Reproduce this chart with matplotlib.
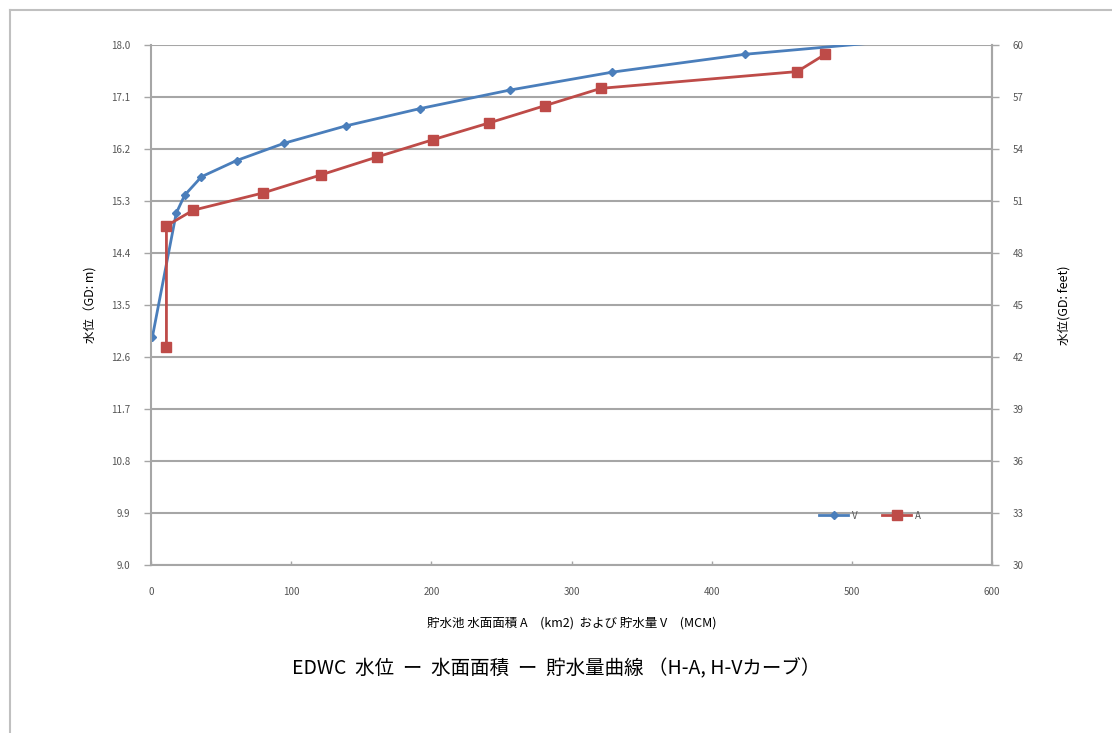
import matplotlib
matplotlib.use('Agg')
import matplotlib.pyplot as plt
from matplotlib.lines import Line2D

plt.rcParams['font.family'] = ['Noto Sans CJK JP', 'DejaVu Sans']

# H-V 曲線 (貯水量 MCM, 水位 m)
vol = [1, 18, 24, 36, 61, 95, 139, 192, 256, 329, 424, 540]
h_vol = [12.95, 15.09, 15.40, 15.72, 16.00, 16.30, 16.60, 16.90, 17.22, 17.53, 17.84, 18.09]

# H-A 曲線 (水面面積 km2, 水位 m)
area = [11, 11, 30, 80, 121, 161, 201, 241, 281, 321, 461, 481]
h_area = [12.77, 14.87, 15.14, 15.44, 15.75, 16.06, 16.36, 16.65, 16.95, 17.25, 17.54, 17.84]

m_ticks = [9.0, 9.9, 10.8, 11.7, 12.6, 13.5, 14.4, 15.3, 16.2, 17.1, 18.0]
ft_ticks = [30, 33, 36, 39, 42, 45, 48, 51, 54, 57, 60]
x_ticks = [0, 100, 200, 300, 400, 500, 600]

blue = '#4a7ebb'
red = '#be4b48'
grid = '#a6a6a6'
tick_col = '#555555'

fig = plt.figure(figsize=(11.12, 7.33), dpi=100)
ax = fig.add_axes([0.1358, 0.2292, 0.7563, 0.7094])

ax.plot(vol, h_vol, color=blue, lw=2, marker='D', ms=4, label='V')
ax.plot(area, h_area, color=red, lw=2, marker='s', ms=6.5, label='A')

ax.set_xlim(0, 600)
ax.set_ylim(9.0, 18.0)
ax.set_xticks(x_ticks)
ax.set_yticks(m_ticks)
ax.set_yticklabels([f'{v:.1f}' for v in m_ticks])
ax.yaxis.grid(True, color=grid, lw=1.5)
ax.set_axisbelow(True)
ax.spines['top'].set_visible(False)
for s in ['left', 'right', 'bottom']:
    ax.spines[s].set_color(grid)
    ax.spines[s].set_linewidth(1.5)
ax.tick_params(axis='y', colors=grid, labelcolor=tick_col, labelsize=7, length=5, width=1, pad=10)
ax.tick_params(axis='x', colors=grid, labelcolor=tick_col, labelsize=7, length=3, width=1, direction='in', pad=16)

ax2 = ax.twinx()
ax2.set_ylim(30, 60)
ax2.set_yticks(ft_ticks)
ax2.spines['top'].set_visible(False)
ax2.spines['right'].set_color(grid)
ax2.spines['right'].set_linewidth(1.5)
ax2.spines['left'].set_visible(False)
ax2.spines['bottom'].set_visible(False)
ax2.tick_params(axis='y', colors=grid, labelcolor=tick_col, labelsize=7, length=5, width=1, pad=10)

ax.set_ylabel('水位（GD: m)', fontsize=9, labelpad=10)
ax2.set_ylabel('水位(GD: feet)', fontsize=9, labelpad=24)
ax.set_xlabel('貯水池 水面面積 A　(km2)  および 貯水量 V　(MCM)', fontsize=9, labelpad=14)

handles = [Line2D([], [], color=blue, lw=2, marker='D', ms=4),
           Line2D([], [], color=red, lw=2, marker='s', ms=6.5)]
leg = ax.legend(handles, ['V', 'A'], loc='center', bbox_to_anchor=(0.855, 0.095), ncol=2,
                frameon=False, fontsize=7, handlelength=3, columnspacing=2.5, handletextpad=0.4)
for t in leg.get_texts():
    t.set_color(tick_col)

fig.text(0.5, 0.087, 'EDWC  水位  ー  水面面積  ー  貯水量曲線 （H-A, H-Vカーブ）',
         ha='center', va='center', fontsize=14)

# 外枠（上辺と左辺）
fig.add_artist(Line2D([0.009, 0.999], [0.986, 0.986], color='#c0c0c0', lw=1.5))
fig.add_artist(Line2D([0.009, 0.009], [0.986, 0.0], color='#c0c0c0', lw=1.5))

fig.savefig('out.png', dpi=100)
